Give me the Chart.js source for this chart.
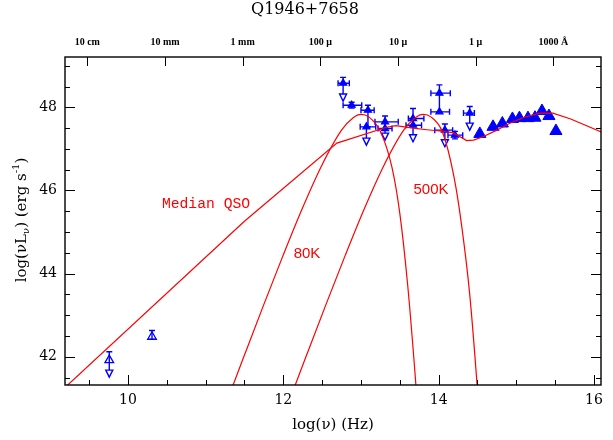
<!DOCTYPE html>
<html>
<head>
<meta charset="utf-8">
<script src="https://cdn.jsdelivr.net/npm/chart.js@4.4.1/dist/chart.umd.min.js"></script>
<style>
html,body{margin:0;padding:0;background:#fff;}
#sed{display:block;}
</style>
</head>
<body>
<canvas id="sed" width="613" height="440"></canvas>
<script>
// axis ranges and tick labels
const xMin=9.19, xMax=16.09, yMin=41.32, yMax=49.21;
const xTickVals=[10,12,14,16];
const yTickVals=[42,44,46,48];
const topLabels=['10 cm','10 mm','1 mm','100 \u03bc','10 \u03bc','1 \u03bc','1000 \u00c5'];
const topPos=[9.477,10.477,11.477,12.477,13.477,14.477,15.477];

// model curves
const medianNu=[9.0,11.5,12.69,13.33,13.45,13.67,13.85,14.01,14.18,14.27,14.36,14.45,14.57,14.75,14.91,15.1,15.3,15.47,15.7,16.1];
const medianL=[40.93,45.26,47.14,47.52,47.56,47.5,47.46,47.43,47.39,47.3,47.2,47.21,47.29,47.45,47.61,47.76,47.86,47.86,47.72,47.4];
const bb80Nu=[11.2,11.5,11.75,12.0,12.25,12.5,12.75,12.9,13.0,13.1,13.25,13.4,13.5,13.6,13.7,13.8];
const bb80L=[40.56,42.04,43.26,44.45,45.59,46.62,47.45,47.75,47.83,47.77,47.42,46.55,45.45,43.75,41.5,38.9];
const bb500Nu=[12.0,12.3,12.55,12.8,13.05,13.3,13.55,13.7,13.8,13.9,14.05,14.2,14.3,14.4,14.5,14.6];
const bb500L=[40.56,42.04,43.26,44.45,45.59,46.62,47.45,47.75,47.83,47.77,47.4,46.3,45.1,43.5,41.2,38.5];

// optical/UV photometry (filled triangles)
const detNu=[14.53,14.7,14.82,14.95,15.04,15.15,15.24,15.33,15.42,15.51];
const detL=[47.36,47.53,47.61,47.72,47.74,47.74,47.75,47.91,47.79,47.43];

// points with error bars / upper limits
const ptNu  =[9.76,10.31,12.77,12.88,13.09,13.07,13.31,13.31,13.67,13.67,14.01,14.01,14.08,14.21,14.40];
const ptL   =[41.92,42.48,48.58,48.05,47.93,47.53,47.65,47.49,47.73,47.57,48.34,47.89,47.45,47.33,47.86];
const ptXlo =[null,null,12.705,12.77,13.0,12.99,13.18,13.22,13.61,13.58,13.9,13.9,13.95,14.12,14.32];
const ptXhi =[null,null,12.85,13.01,13.17,13.19,13.48,13.4,13.81,13.78,14.15,14.14,14.18,14.31,14.46];
const ptYtop=[42.12,42.63,48.72,48.12,48.05,47.53,47.79,null,47.97,null,48.54,null,47.6,47.42,48.02];
const ptYbot=[41.51,42.42,48.15,47.98,47.53,47.09,47.21,null,47.17,null,47.89,null,47.05,47.24,47.45];
const ptLimit=[1,0,1,0,0,1,1,0,1,0,0,0,1,0,1];
const ptOpen=[1,1,0,0,0,0,0,0,0,0,0,0,0,0,0];

const blue='#0000ff', red='#ff0000';
const toXY=(xs,ys)=>xs.map((v,i)=>({x:v,y:ys[i]}));

const serif='"Liberation Serif","DejaVu Serif",serif';
const wide='"DejaVu Serif",serif';

const errorBars={id:'errorBars',beforeDatasetsDraw(c){
  const {ctx,scales:{x,y}}=c;
  ctx.save();
  ctx.strokeStyle=blue;ctx.fillStyle='#fff';ctx.lineWidth=1.4;
  ptNu.forEach((v,i)=>{
    const px=x.getPixelForValue(v), py=y.getPixelForValue(ptL[i]);
    ctx.beginPath();
    if(ptXlo[i]!==null){
      const x0=x.getPixelForValue(ptXlo[i]), x1=x.getPixelForValue(ptXhi[i]);
      ctx.moveTo(x0,py);ctx.lineTo(x1,py);
      ctx.moveTo(x0,py-3);ctx.lineTo(x0,py+3);
      ctx.moveTo(x1,py-3);ctx.lineTo(x1,py+3);
    }
    if(ptYtop[i]!==null){
      const yt=y.getPixelForValue(ptYtop[i]), yb=y.getPixelForValue(ptYbot[i]);
      ctx.moveTo(px,yt);ctx.lineTo(px,yb);
      ctx.moveTo(px-3,yt);ctx.lineTo(px+3,yt);
      if(!ptLimit[i]){ctx.moveTo(px-3,yb);ctx.lineTo(px+3,yb);}
    }
    ctx.stroke();
    if(ptLimit[i]){
      const yb=y.getPixelForValue(ptYbot[i]);
      ctx.beginPath();
      ctx.moveTo(px-3.5,yb-7);ctx.lineTo(px+3.5,yb-7);ctx.lineTo(px,yb);ctx.closePath();
      ctx.fill();ctx.stroke();
    }
  });
  ctx.restore();
}};

const frame={id:'frame',afterDraw(c){
  const {ctx,chartArea:a,scales:{x,y}}=c;
  ctx.save();
  ctx.strokeStyle='#000';ctx.lineWidth=1;
  ctx.beginPath();
  for(let k=19;k<=32;k++){
    const v=k/2, px=Math.round(x.getPixelForValue(v))+0.5, len=xTickVals.includes(v)?10:5;
    ctx.moveTo(px,a.bottom);ctx.lineTo(px,a.bottom-len);
  }
  for(let k=83;k<=98;k++){
    const v=k/2, py=Math.round(y.getPixelForValue(v))+0.5, len=yTickVals.includes(v)?10:5;
    ctx.moveTo(a.left,py);ctx.lineTo(a.left+len,py);
    ctx.moveTo(a.right,py);ctx.lineTo(a.right-len,py);
  }
  topPos.forEach(v=>{const px=Math.round(x.getPixelForValue(v))+0.5;ctx.moveTo(px,a.top);ctx.lineTo(px,a.top+9);});
  ctx.stroke();
  ctx.lineWidth=1.4;
  ctx.strokeRect(a.left,a.top,a.right-a.left,a.bottom-a.top);

  ctx.fillStyle='#000';
  ctx.textAlign='center';ctx.textBaseline='middle';
  ctx.font='14px '+wide;
  xTickVals.forEach(v=>ctx.fillText(String(v),x.getPixelForValue(v),a.bottom+15));
  ctx.textAlign='right';
  yTickVals.forEach(v=>ctx.fillText(String(v),a.left-8,y.getPixelForValue(v)));
  ctx.textAlign='center';
  ctx.font='bold 10px '+serif;
  topLabels.forEach((t,i)=>ctx.fillText(t,x.getPixelForValue(topPos[i]),a.top-15));
  ctx.font='16px '+wide;
  ctx.fillText('Q1946+7658',305,10);
  ctx.font='15px '+wide;
  ctx.fillText('log(\u03bd) (Hz)',333,425);

  // y title with sub/superscript
  ctx.save();
  ctx.translate(22,220);ctx.rotate(-Math.PI/2);
  const parts=[['log(\u03bdL',15,0],['\u03bd',10,4],[') (erg s',15,0],['-1',10,-6],[')',15,0]];
  let w=0;parts.forEach(p=>{ctx.font=p[1]+'px '+wide;w+=ctx.measureText(p[0]).width;});
  let cx=-w/2;ctx.textAlign='left';
  parts.forEach(p=>{ctx.font=p[1]+'px '+wide;ctx.fillText(p[0],cx,p[2]);cx+=ctx.measureText(p[0]).width;});
  ctx.restore();

  // curve labels
  ctx.fillStyle=red;ctx.textAlign='center';
  ctx.font='14.7px "Liberation Mono",monospace';
  ctx.fillText('Median QSO',206,204);
  ctx.font='15px "Liberation Sans",Arial,sans-serif';
  ctx.fillText('80K',307,254);
  ctx.fillText('500K',431,190);
  ctx.restore();
}};

const lineDs=(xs,ys,mode)=>({data:toXY(xs,ys),showLine:true,borderColor:red,borderWidth:1.2,pointRadius:0,
  cubicInterpolationMode:mode,tension:0,fill:false});

new Chart(document.getElementById('sed').getContext('2d'),{
  type:'scatter',
  data:{datasets:[
    lineDs(medianNu,medianL,'default'),
    lineDs(bb80Nu,bb80L,'monotone'),
    lineDs(bb500Nu,bb500L,'monotone'),
    {data:toXY(ptNu,ptL),pointStyle:'triangle',
     pointRadius:ptOpen.map(o=>o?5:4),
     backgroundColor:ptOpen.map(o=>o?'rgba(0,0,0,0)':blue),
     borderColor:blue,borderWidth:1.3},
    {data:toXY(detNu,detL),pointStyle:'triangle',pointRadius:7,backgroundColor:blue,borderColor:blue,borderWidth:1}
  ]},
  options:{
    responsive:false,animation:false,devicePixelRatio:1,
    layout:{padding:{left:65,right:12,top:57,bottom:55}},
    plugins:{legend:{display:false},tooltip:{enabled:false}},
    scales:{
      x:{type:'linear',min:xMin,max:xMax,display:false},
      y:{type:'linear',min:yMin,max:yMax,display:false}
    }
  },
  plugins:[errorBars,frame]
});
</script>
</body>
</html>
